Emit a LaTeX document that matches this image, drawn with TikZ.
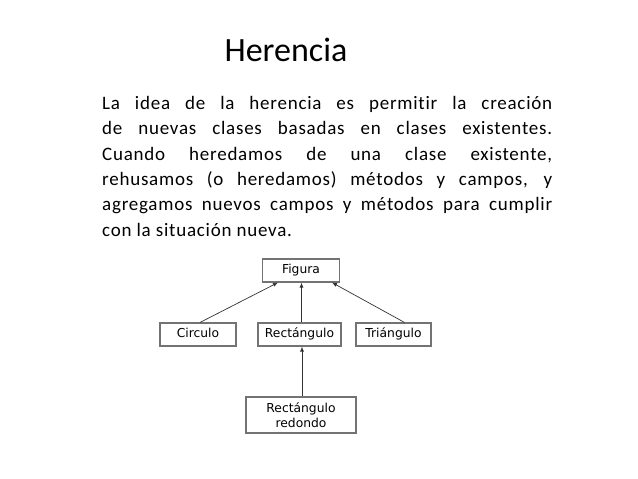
\documentclass[tikz,border=0pt]{standalone}
\usepackage{fontspec}
\setmainfont{Carlito}
\newfontfamily\bodyfont[LetterSpace=4,Ligatures={NoCommon}]{Carlito}
\newfontfamily\boxfont{DejaVu Sans}
\usetikzlibrary{calc,arrows.meta}
\begin{document}
\begin{tikzpicture}[x=1pt,y=-1pt,
  cls/.style={draw=black!55,line width=1.1pt,fill=white,inner sep=0pt,
    font=\boxfont\fontsize{12.3}{14}\selectfont,text=black,align=center,
    text height=9pt,text depth=2.6pt},
  arr/.style={draw=black!80,line width=0.7pt,-{Latex[length=5pt,width=4pt]}}]
\useasboundingbox[fill=white] (0,0) rectangle (638,479);
\node[anchor=base,font=\fontsize{34}{40}\selectfont] (title) at (286,61) {Herencia};
\node[anchor=north west,inner sep=0pt,text width=450pt,align=justify,
  font=\bodyfont\fontsize{19}{25.4}\selectfont] (body) at (102,96)
  {La idea de la herencia es permitir la creación\linebreak
   de nuevas clases basadas en clases existentes.\linebreak
   Cuando heredamos de una clase existente,\linebreak
   rehusamos (o heredamos) métodos y campos, y\linebreak
   agregamos nuevos campos y métodos para cumplir\linebreak
   con la situación nueva.};
\node[cls,minimum width=77pt,minimum height=23pt] (fig) at (301,270.5) {Figura};
\node[cls,minimum width=76pt,minimum height=23pt] (circ) at (198,334.5) {Circulo};
\node[cls,minimum width=83pt,minimum height=23pt] (rect) at (299.5,334.5) {Rectángulo};
\node[cls,minimum width=75pt,minimum height=23pt] (tri) at (393.5,334.5) {Triángulo};
\node[cls,minimum width=110pt,minimum height=36pt,text height=,text depth=] (red) at (301,415) {Rectángulo\\[1pt]redondo};
\coordinate (c1) at ($(circ.north)+(2,0)$);
\coordinate (f1) at ($(fig.south)+(-23,0)$);
\coordinate (r1) at ($(rect.north)+(2,0)$);
\coordinate (f2) at ($(fig.south)+(0.5,0)$);
\coordinate (t1) at ($(tri.north)+(11,0)$);
\coordinate (f3) at ($(fig.south)+(31,0)$);
\coordinate (d1) at ($(red.north)+(1,0)$);
\coordinate (r2) at ($(rect.south)+(2.5,0)$);
\draw[arr] (c1) -- (f1);
\draw[arr] (r1) -- (f2);
\draw[arr] (t1) -- (f3);
\draw[arr] (d1) -- (r2);
\end{tikzpicture}
\end{document}
